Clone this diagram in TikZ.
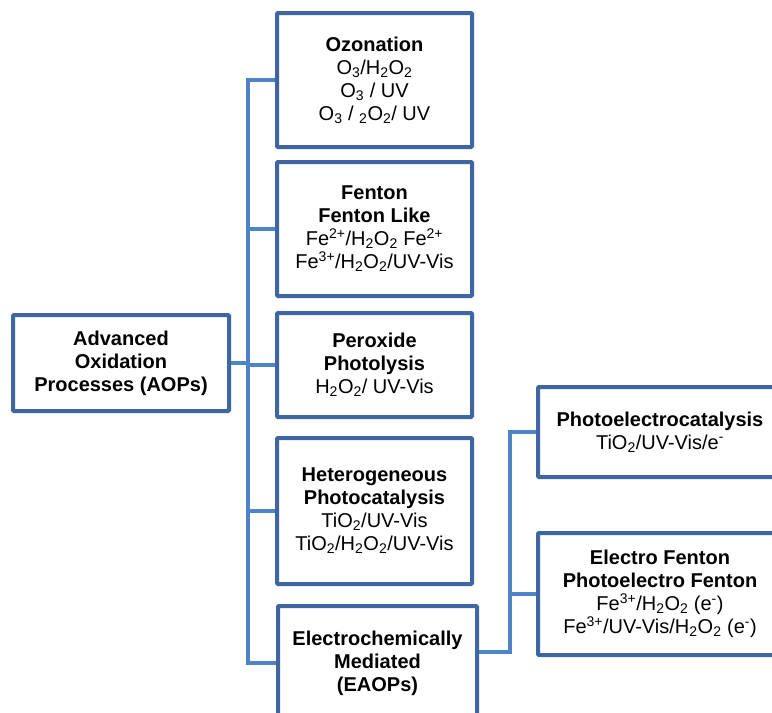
\documentclass[tikz,border=0pt]{standalone}
\usepackage{fontspec}
\setmainfont{Liberation Sans}
\definecolor{boxblue}{RGB}{62,102,162}
\definecolor{lineblue}{RGB}{78,132,198}
\tikzset{
  box/.style={draw=boxblue, line width=4pt, fill=white, rectangle, rounded corners=1pt,
    align=center, inner sep=0pt, font=\fontsize{20}{23}\selectfont, text=black},
  conn/.style={draw=lineblue, line width=3.2pt},
}
\newcommand{\sbs}[1]{\textsubscript{#1}}
\newcommand{\sps}[1]{\textsuperscript{#1}}
\begin{document}
\begin{tikzpicture}[x=1pt,y=-1pt]
\useasboundingbox (0,0) rectangle (772,713);
\fill[white] (0,0) rectangle (772,713);
\clip (0,0) rectangle (772,713);
\coordinate (t) at (248,0);
\coordinate (t2) at (510,0);
\node[box, minimum width=195pt, minimum height=134pt] (oz) at (374.5,80)
  {\textbf{Ozonation}\\O\sbs{3}/H\sbs{2}O\sbs{2}\\O\sbs{3} / UV\\O\sbs{3} / \sbs{2}O\sbs{2}/ UV};
\node[box, minimum width=195pt, minimum height=134pt] (fen) at (374.5,229)
  {\textbf{Fenton}\\\textbf{Fenton Like}\\Fe\sps{2+}/H\sbs{2}O\sbs{2} Fe\sps{2+}\\Fe\sps{3+}/H\sbs{2}O\sbs{2}/UV-Vis};
\node[box, minimum width=195pt, minimum height=104pt] (per) at (374.5,365)
  {\textbf{Peroxide}\\\textbf{Photolysis}\\H\sbs{2}O\sbs{2}/ UV-Vis};
\node[box, minimum width=195pt, minimum height=146pt] (het) at (374.5,511)
  {\textbf{Heterogeneous}\\\textbf{Photocatalysis}\\TiO\sbs{2}/UV-Vis\\TiO\sbs{2}/H\sbs{2}O\sbs{2}/UV-Vis};
\node[box, minimum width=199pt, minimum height=114pt] (eaop) at (377.5,663)
  {\textbf{Electrochemically}\\\textbf{Mediated}\\\textbf{(EAOPs)}};
\node[box, minimum width=216pt, minimum height=96pt] (aop) at (121,363)
  {\textbf{Advanced}\\\textbf{Oxidation}\\\textbf{Processes (AOPs)}};
\node[box, minimum width=244pt, minimum height=90pt] (pec) at (660,432)
  {\textbf{Photoelectrocatalysis}\\TiO\sbs{2}/UV-Vis/e\sps{-}};
\node[box, minimum width=244pt, minimum height=122pt] (ef) at (660,594)
  {\textbf{Electro Fenton}\\\textbf{Photoelectro Fenton}\\Fe\sps{3+}/H\sbs{2}O\sbs{2} (e\sps{-})\\Fe\sps{3+}/UV-Vis/H\sbs{2}O\sbs{2} (e\sps{-})};
\draw[conn] (oz.west) -- (oz.west -| t) -- (eaop.west -| t) -- (eaop.west);
\draw[conn] (fen.west) -- (fen.west -| t);
\draw[conn] (per.west) -- (per.west -| t);
\draw[conn] (het.west) -- (het.west -| t);
\draw[conn] (aop.east) -- (aop.east -| t);
\draw[conn] ([yshift=11pt]eaop.east) -- ([yshift=11pt]eaop.east -| t2) |- (pec.west);
\draw[conn] (ef.west) -- (ef.west -| t2);
\end{tikzpicture}
\end{document}
